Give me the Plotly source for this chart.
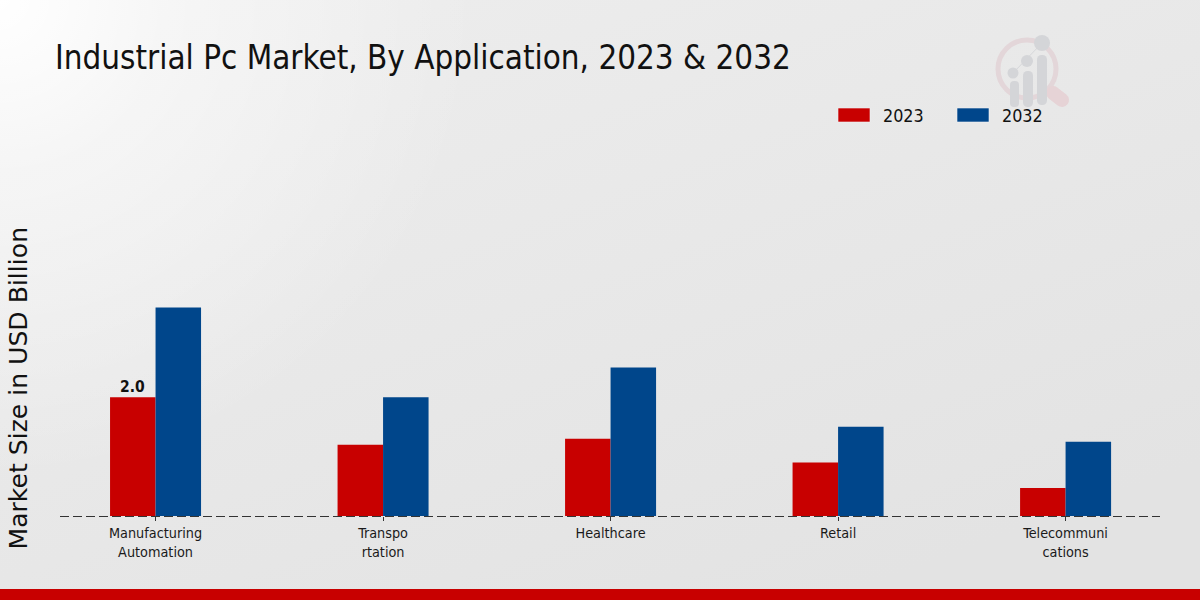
from urllib.parse import quote
from plotly import graph_objs as go

categories = ['Manufacturing<br>Automation', 'Transpo<br>rtation', 'Healthcare', 'Retail', 'Telecommuni<br>cations']
values_2023 = [2.0, 1.2, 1.3, 0.9, 0.47]
values_2032 = [3.51, 2.0, 2.5, 1.5, 1.25]
labels_2023 = ['2.0', '', '', '', '']
years = ['2023', '2032']

RED = '#C80000'
BLUE = '#00468B'
CONDENSED = 'DejaVu Sans Condensed'

W, H = 1200, 600
L, R, T, B = 60, 40, 100, 84

def px(x):
    return (x - L) / (W - L - R)

def py(y):
    return (H - B - y) / (H - T - B)

# page background and the faint logo, same pixel space as the figure
background = f'''<svg xmlns="http://www.w3.org/2000/svg" width="{W}" height="{H}" viewBox="0 0 {W} {H}">
<defs><linearGradient id="g" gradientUnits="userSpaceOnUse" x1="0" y1="0" x2="300" y2="800">
<stop offset="0" stop-color="#eeeeee"/><stop offset="1" stop-color="#e3e3e3"/></linearGradient>
<radialGradient id="w" gradientUnits="userSpaceOnUse" cx="0" cy="0" r="480">
<stop offset="0" stop-color="#ffffff" stop-opacity="1"/><stop offset="0.35" stop-color="#ffffff" stop-opacity="0.5"/>
<stop offset="1" stop-color="#ffffff" stop-opacity="0"/></radialGradient></defs>
<rect width="{W}" height="{H}" fill="url(#g)"/>
<rect width="{W}" height="{H}" fill="url(#w)"/>
<circle cx="1027" cy="69" r="29" fill="none" stroke="#e3d6d9" stroke-width="5"/>
<line x1="1053" y1="93" x2="1062" y2="100" stroke="#e6d3d6" stroke-width="14" stroke-linecap="round"/>
<line x1="1013" y1="73" x2="1042" y2="43" stroke="#d5d6d9" stroke-width="1"/>
<circle cx="1013" cy="73" r="5.5" fill="#d4d5d8"/><circle cx="1027" cy="61" r="6" fill="#d4d5d8"/>
<circle cx="1042" cy="43" r="8" fill="#d4d5d8"/>
<rect x="1010" y="81" width="9" height="26" rx="4" fill="#d4d5d8"/>
<rect x="1023" y="71" width="10" height="36" rx="4.5" fill="#d4d5d8"/>
<rect x="1037" y="55" width="10" height="50" rx="4.5" fill="#d4d5d8"/>
</svg>'''
background_uri = 'data:image/svg+xml,' + quote(background)

bar_2023 = go.Bar(x=categories, y=values_2023, name=years[0], marker=dict(color=RED, line=dict(width=0)))
bar_2032 = go.Bar(x=categories, y=values_2032, name=years[1], marker=dict(color=BLUE, line=dict(width=0)))

# value labels sit closer to the bar than textposition='outside' allows
value_labels = [
    dict(text=label, x=cat, y=val, xref='x', yref='y', xshift=-22.75, yshift=-1, yanchor='bottom',
         showarrow=False, font=dict(family=CONDENSED, size=15.5, color='#111111', weight='bold'))
    for cat, val, label in zip(categories, values_2023, labels_2023) if label
]

layout = go.Layout(
    width=W, height=H,
    margin=dict(l=L, r=R, t=T, b=B),
    paper_bgcolor='#e8e8e8',
    plot_bgcolor='rgba(0,0,0,0)',
    barmode='group', bargap=0.6, bargroupgap=0,
    showlegend=False,
    xaxis=dict(range=[-0.42, 4.415], showgrid=False, zeroline=False, showline=False,
               ticks='outside', ticklen=4, tickcolor='#333333', tickwidth=1,
               tickfont=dict(family=CONDENSED, size=14.3, color='#1a1a1a')),
    yaxis=dict(range=[0, 7], showgrid=False, zeroline=False, showline=False, showticklabels=False,
               title=None),
    images=[dict(source=background_uri, xref='paper', yref='paper', x=px(0), y=py(0),
                 sizex=px(W) - px(0), sizey=py(0) - py(H), xanchor='left', yanchor='top',
                 sizing='stretch', layer='below')],
    shapes=[
        # paper refs here, a y-axis ref clips half the line at the plot edge
        dict(type='line', xref='paper', yref='paper', x0=0, x1=1, y0=py(516.5), y1=py(516.5), layer='above',
             line=dict(color='#333333', width=1, dash='9px,4px')),
        dict(type='rect', xref='paper', yref='paper', x0=px(0), x1=px(W), y0=py(589), y1=py(H),
             fillcolor=RED, line=dict(width=0)),
        dict(type='rect', xref='paper', yref='paper', x0=px(838), x1=px(870), y0=py(108), y1=py(122),
             fillcolor=RED, line=dict(color='#f0f0f4', width=0.6)),
        dict(type='rect', xref='paper', yref='paper', x0=px(957), x1=px(989), y0=py(108), y1=py(122),
             fillcolor=BLUE, line=dict(color='#f0f0f4', width=0.6)),
    ],
    annotations=value_labels + [
        dict(text='Industrial Pc Market, By Application, 2023 &amp; 2032', xref='paper', yref='paper',
             x=px(53), y=py(58), xanchor='left', yanchor='middle', showarrow=False,
             font=dict(family=CONDENSED, size=32.9, color='#111111')),
        dict(text='Market Size in USD Billion', xref='paper', yref='paper', x=px(18), y=py(388.5),
             xanchor='center', yanchor='middle', textangle=-90, showarrow=False,
             font=dict(family='DejaVu Sans', size=25.1, color='#111111')),
        dict(text=years[0], xref='paper', yref='paper', x=px(881), y=py(115), xanchor='left',
             yanchor='middle', showarrow=False, font=dict(family=CONDENSED, size=17.8, color='#111111')),
        dict(text=years[1], xref='paper', yref='paper', x=px(1000), y=py(115), xanchor='left',
             yanchor='middle', showarrow=False, font=dict(family=CONDENSED, size=17.8, color='#111111')),
    ],
)

fig = go.Figure(data=[bar_2023, bar_2032], layout=layout)
fig.write_html("out.html", config=dict(displayModeBar=False), post_script="document.body.style.margin='0';")
